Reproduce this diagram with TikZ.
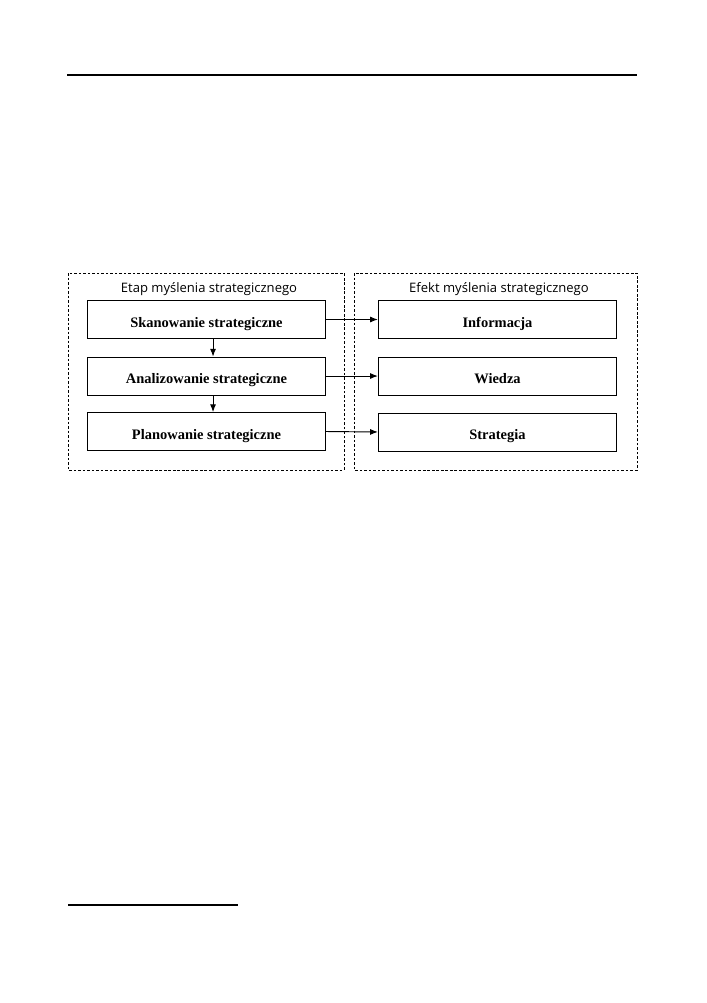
\documentclass[tikz,border=0pt]{standalone}
\usepackage{fontspec}
\setmainfont{Liberation Serif}
\newfontfamily\titlefont{Open Sans}
\usepackage{tikz}
\usetikzlibrary{arrows.meta}

\begin{document}
\begin{tikzpicture}[
  x=0.8432pt, y=-0.8432pt,
  frame/.style = {draw, dashed, dash pattern=on 2.2pt off 1.6pt, line width=0.5pt},
  box/.style   = {draw, line width=0.7pt, minimum width=201pt,
                  minimum height=32pt, text height=13pt, text depth=0pt,
                  font=\bfseries\fontsize{12.2}{14}\selectfont},
  head/.style  = {font=\titlefont\fontsize{11}{13}\selectfont},
  arr/.style   = {-{Latex[length=6.5pt,width=5pt]}, line width=0.8pt}
]
  \useasboundingbox (0,0) rectangle (706,1003);

  % Page rules
  \draw[line width=1.7pt] (67,75) -- (637,75);
  \draw[line width=0.9pt] (68,905) -- (238,905);

  % Dashed frames
  \draw[frame] (68,273) rectangle (344,470);
  \draw[frame] (354,273) rectangle (637,470);

  % Frame titles
  \node[head] (etap) at (209,289) {Etap myślenia strategicznego};
  \node[head] (efekt) at (499,289) {Efekt myślenia strategicznego};

  % Stages
  \node[box] (skan) at (206.5,319.5) {Skanowanie strategiczne};
  \node[box] (anal) at (206.5,376) {Analizowanie strategiczne};
  \node[box] (plan) at (206.5,431.5) {Planowanie strategiczne};

  % Effects
  \node[box] (info) at (497.5,319.5) {Informacja};
  \node[box] (wied) at (497.5,376) {Wiedza};
  \node[box] (strat) at (497.5,432) {Strategia};

  % Connections
  \draw[arr] ([xshift=5.5pt]skan.south) -- ([xshift=5.5pt]anal.north);
  \draw[arr] ([xshift=5.5pt]anal.south) -- ([xshift=5.5pt]plan.north);

  \draw[arr] (skan.east) -- (info.west);
  \draw[arr] (anal.east) -- (wied.west);
  \draw[arr] (plan.east) -- (strat.west);

\end{tikzpicture}
\end{document}
